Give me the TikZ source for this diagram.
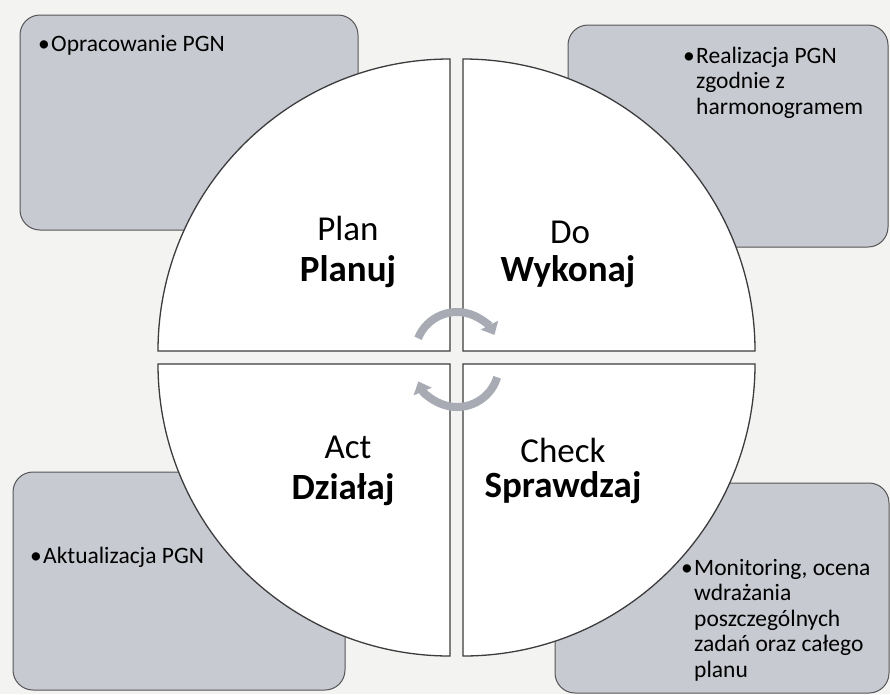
\documentclass[tikz,border=0pt]{standalone}
\usepackage{fontspec}
\setmainfont{Carlito}
\usetikzlibrary{arrows.meta}
\definecolor{bg}{RGB}{243,243,241}
\definecolor{boxfill}{RGB}{200,202,209}
\definecolor{boxline}{RGB}{85,85,88}
\definecolor{quadline}{RGB}{60,60,62}
\definecolor{arrowgray}{RGB}{168,171,180}
\newcommand{\bul}{\llap{\makebox[13pt][l]{•}}}
\tikzset{
  gbox/.style={draw=boxline, fill=boxfill, line width=1pt, rounded corners=20pt},
  quad/.style={draw=quadline, fill=white, line width=1.3pt},
  cyc/.style={draw=arrowgray, line width=8pt, -{Triangle[width=19pt,length=11pt]}},
  big/.style={font=\fontsize{35}{40}\selectfont, inner sep=0pt},
  bigb/.style={font=\fontsize{37}{42}\selectfont\bfseries, inner sep=0pt},
  small/.style={font=\fontsize{23.5}{25.5}\selectfont, align=left, anchor=base west, inner sep=0pt}
}
\begin{document}
\begin{tikzpicture}[x=1pt,y=-1pt]
\useasboundingbox (0,0) rectangle (890,694);
\fill[bg] (0,0) rectangle (890,694);
% grey boxes
\draw[gbox] (20,15) rectangle (358,230);
\draw[gbox] (568,25) rectangle (888,247);
\draw[gbox] (13,472) rectangle (345,690);
\draw[gbox] (555,483) rectangle (889,693);
% quadrants
\draw[quad] (450,351) -- (158,351) arc[start angle=180, end angle=270, radius=292] -- cycle;
\draw[quad] (463,351) -- (463,59) arc[start angle=270, end angle=360, radius=292] -- cycle;
\draw[quad] (463,364) -- (755,364) arc[start angle=0, end angle=90, radius=292] -- cycle;
\draw[quad] (450,364) -- (450,656) arc[start angle=90, end angle=180, radius=292] -- cycle;
% cycle arrows
\coordinate (c1) at (457,354);
\coordinate (c2) at (457,365);
\draw[cyc] ([shift={(202:42)}]c1) arc[start angle=202, end angle=333, radius=42];
\draw[cyc] ([shift={(17:42)}]c2) arc[start angle=17, end angle=157, radius=42];
% quadrant labels
\node[big]  (plan)   at (348,228) {Plan};
\node[bigb] (planuj) at (348,272) {Planuj};
\node[big]  (do)     at (570,232) {Do};
\node[bigb] (wyk)    at (568,272) {Wykonaj};
\node[big]  (act)    at (348,447) {Act};
\node[bigb] (dzi)    at (343,490) {Działaj};
\node[big]  (check)  at (563,450) {Check};
\node[bigb] (spr)    at (563,488) {Sprawdzaj};
% box texts
\node[small] (t1) at (51,51) {\bul Opracowanie PGN};
\node[small] (t2) at (696,114) {\bul Realizacja PGN\\zgodnie z\\harmonogramem};
\node[small] (t3) at (43,563) {\bul Aktualizacja PGN};
\node[small] (t4) at (694,677) {\bul Monitoring, ocena\\wdrażania\\poszczególnych\\zadań oraz całego\\planu};
\end{tikzpicture}
\end{document}
